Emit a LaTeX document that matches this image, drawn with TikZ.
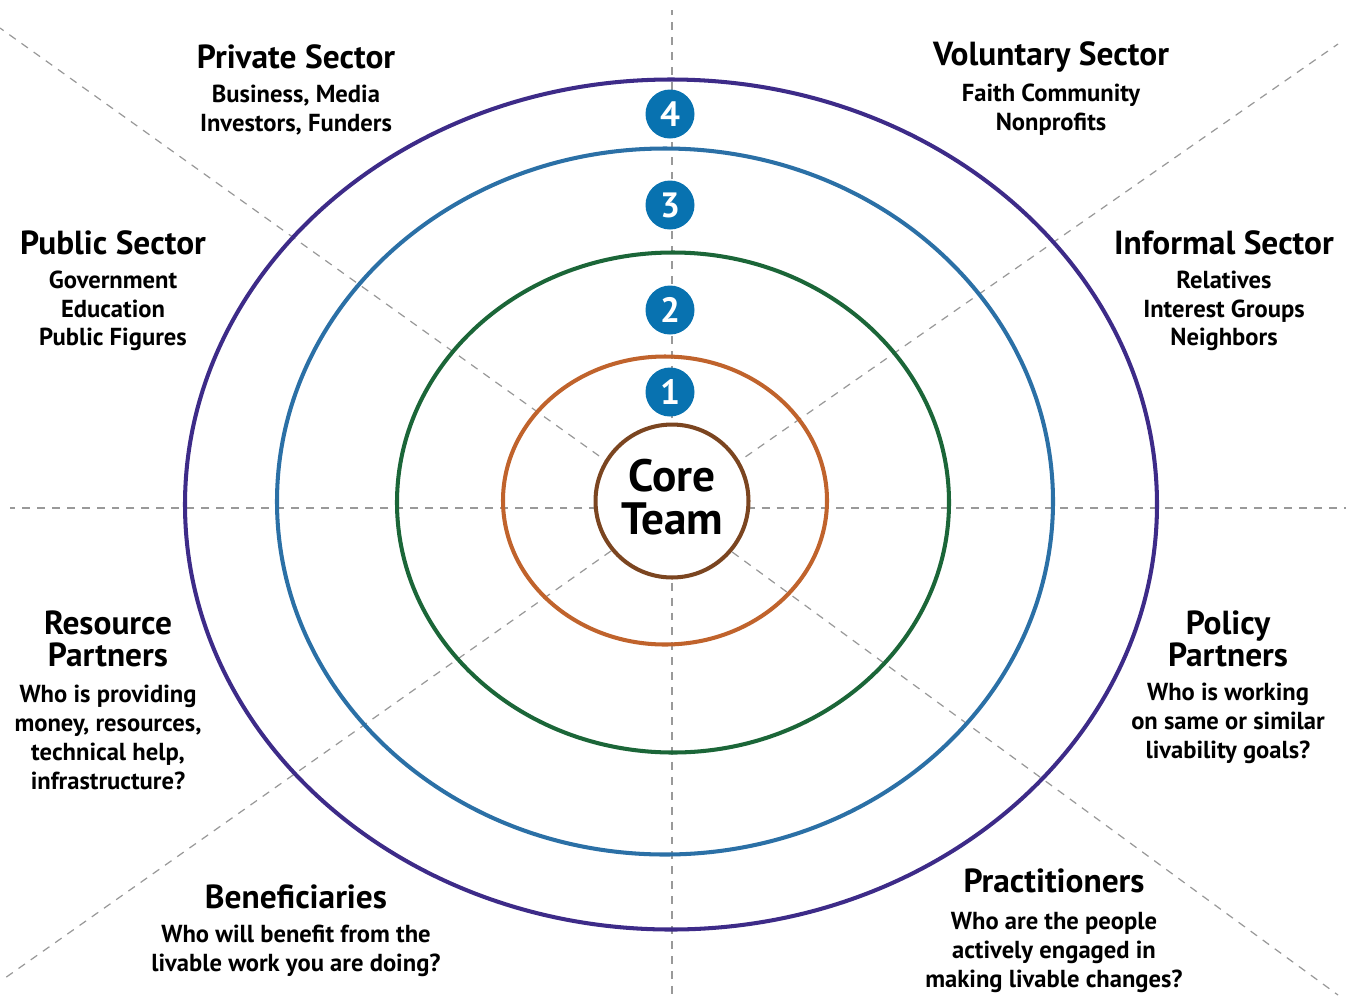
\documentclass[tikz,border=0pt]{standalone}
\usepackage{fontspec}
\setmainfont{PT Sans}
\usetikzlibrary{positioning}

\definecolor{ringpurple}{HTML}{3D2B88}
\definecolor{ringblue}{HTML}{2B70A6}
\definecolor{ringgreen}{HTML}{1B6638}
\definecolor{ringorange}{HTML}{C0632C}
\definecolor{corebrown}{HTML}{7B4520}
\definecolor{badgeblue}{HTML}{0872B0}

\begin{document}
\begin{tikzpicture}[x=0.02cm, y=-0.02cm]

        % --- styles ---
        \tikzstyle{ring} = [line width=2.3pt]
        \tikzstyle{divider} = [gray!80, line width=0.7pt, dash pattern=on 4.5pt off 4pt]
        \tikzstyle{badge} = [circle, fill=badgeblue, text=white, minimum size=0.98cm, inner sep=0pt, font=\bfseries\fontsize{20}{20}\selectfont]
        \tikzstyle{sectortitle} = [align=center, inner sep=0pt, font=\bfseries\fontsize{19}{18.5}\selectfont]
        \tikzstyle{sectortext} = [align=center, inner sep=0pt, font=\bfseries\fontsize{14}{16.4}\selectfont]

        \useasboundingbox (0,0) rectangle (1346,1002);

        % --- dashed dividers ---
        \coordinate (hub) at (672,508);
        \coordinate (n) at (672,10);
        \coordinate (s) at (672,995);
        \coordinate (w) at (10,508);
        \coordinate (e) at (1346,508);
        \coordinate (nw) at (0,28);
        \coordinate (ne) at (1338,44);
        \coordinate (sw) at (5,978);
        \coordinate (se) at (1338,995);
        \foreach \d in {n,s,w,e,nw,ne,sw,se}
            \draw[divider] (hub) -- (\d);

        % --- rings ---
        \draw[ring, ringpurple] (671,504.5) ellipse [x radius=486, y radius=425];
        \draw[ring, ringblue] (665,501.5) ellipse [x radius=388, y radius=353];
        \draw[ring, ringgreen] (673,502.5) ellipse [x radius=276, y radius=250];
        \draw[ring, ringorange] (665,500.5) ellipse [x radius=162, y radius=144];

        % --- core ---
        \node (core) [circle, draw=corebrown, line width=2.3pt, fill=white, minimum size=3.06cm, inner sep=0pt] at (672,501) {};
        \node (core_txt) [align=center, inner sep=0pt, font=\bfseries\fontsize{25.8}{24.5}\selectfont] at (672,497) {Core\\Team};

        % --- badges ---
        \node (lvl4) [badge] at (670,114) {4};
        \node (lvl3) [badge] at (670,205) {3};
        \node (lvl2) [badge] at (670,310) {2};
        \node (lvl1) [badge] at (670,392) {1};

        % --- sectors ---
        \node (private) [sectortitle] at (296,57) {Private Sector};
        \node (private_txt) [sectortext] at (296,110) {Business, Media\\Investors, Funders};

        \node (voluntary) [sectortitle] at (1051,57) {Voluntary Sector};
        \node (voluntary_txt) [sectortext] at (1051,110) {Faith Community\\Nonprofits};

        \node (public) [sectortitle] at (113,243) {Public Sector};
        \node (public_txt) [sectortext] at (113,311) {Government\\Education\\Public Figures};

        \node (informal) [sectortitle] at (1224,243) {Informal Sector};
        \node (informal_txt) [sectortext] at (1224,311) {Relatives\\Interest Groups\\Neighbors};

        \node (resource) [sectortitle] at (108,639) {Resource\\Partners};
        \node (resource_txt) [sectortext] at (108,737.5) {Who is providing\\money, resources,\\technical help,\\infrastructure?};

        \node (policy) [sectortitle] at (1228,639) {Policy\\Partners};
        \node (policy_txt) [sectortext] at (1228,723.5) {Who is working\\on same or similar\\livability goals?};

        \node (benef) [sectortitle] at (296,897) {Beneficiaries};
        \node (benef_txt) [sectortext] at (296,951) {Who will benefit from the\\livable work you are doing?};

        \node (pract) [sectortitle] at (1054,881) {Practitioners};
        \node (pract_txt) [sectortext] at (1054,952.5) {Who are the people\\actively engaged in\\making livable changes?};

\end{tikzpicture}
\end{document}
